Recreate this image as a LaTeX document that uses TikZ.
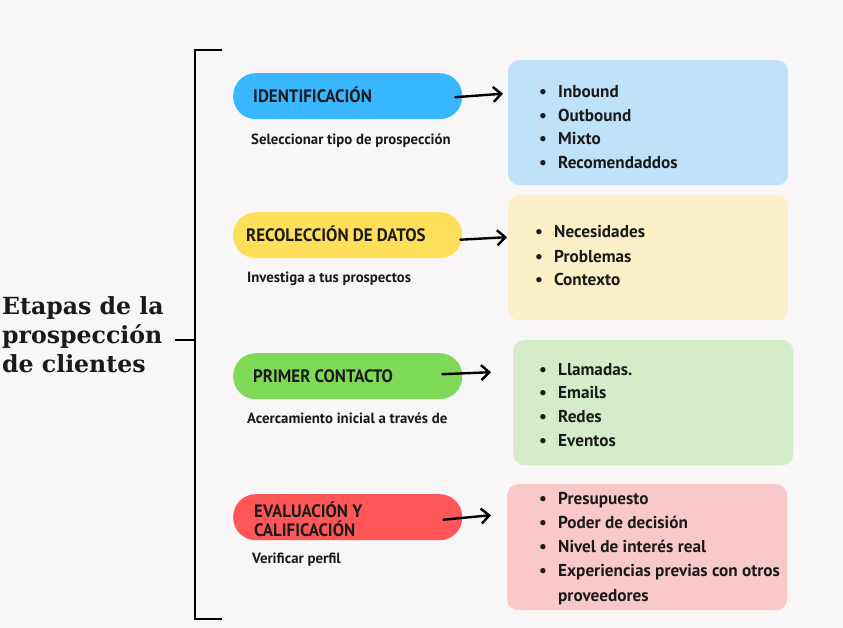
\documentclass[tikz,border=0pt]{standalone}
\usepackage{fontspec}
\setmainfont{PT Sans}
\newfontfamily\pillfont[FakeStretch=0.94]{PT Sans}
\newfontfamily\titlefont{DejaVu Serif}
\usetikzlibrary{arrows.meta}
\definecolor{bg}{HTML}{F8F6F7}
\definecolor{ink}{HTML}{1A1A1A}
\definecolor{pblue}{HTML}{38B6FF}
\definecolor{pyellow}{HTML}{FFDE59}
\definecolor{pgreen}{HTML}{7ED957}
\definecolor{pred}{HTML}{FF5757}
\definecolor{lblue}{HTML}{C0E2F9}
\definecolor{lyellow}{HTML}{FCF0C8}
\definecolor{lgreen}{HTML}{D4EDC8}
\definecolor{lred}{HTML}{F9C8C8}
\tikzset{
  pill/.style={draw=none, rounded corners=22.5pt, minimum width=229pt, minimum height=46pt, inner sep=0pt, anchor=north west},
  listbox/.style={draw=none, rounded corners=11pt, minimum width=280pt, minimum height=125pt, inner sep=0pt, anchor=north west},
  pilltext/.style={anchor=base west, inner sep=0pt, text=ink, font=\pillfont\bfseries\fontsize{18}{20}\selectfont},
  subtext/.style={anchor=base west, inner sep=0pt, text=ink, font=\bfseries\fontsize{14.8}{17}\selectfont},
  item/.style={anchor=base west, inner sep=0pt, text=ink, font=\bfseries\fontsize{17.2}{20}\selectfont},
  bul/.style={anchor=base, inner sep=0pt, text=ink, font=\bfseries\fontsize{17.2}{20}\selectfont},
  arr/.style={line width=2.4pt, line cap=round, line join=round, draw=black, -{Straight Barb[length=8pt,width=15pt,line width=2.4pt]}},
  brk/.style={line width=1.8pt, draw=black}
}
\begin{document}
\begin{tikzpicture}[x=1pt,y=-1pt]
\fill[bg] (0,0) rectangle (843,628);
\useasboundingbox (0,0) rectangle (843,628);

% bracket
\coordinate (brtop) at (222,50);
\coordinate (brtl) at (195,50);
\coordinate (brbl) at (195,619);
\coordinate (brbot) at (222,619);
\coordinate (brmid) at (195,340);
\coordinate (tick) at (175,340);
\draw[brk] (brtop) -- (brtl) -- (brbl) -- (brbot);
\draw[brk] (tick) -- (brmid);

% title
\node[anchor=west, inner sep=0pt, align=left, text=ink, font=\titlefont\bfseries\fontsize{23.6}{29}\selectfont] (title) at (2,335) {Etapas de la\\prospección\\de clientes};

% pills
\node[pill, fill=pblue] (p1) at (233,73) {};
\node[pill, fill=pyellow] (p2) at (233,212) {};
\node[pill, fill=pgreen] (p3) at (233,353) {};
\node[pill, fill=pred] (p4) at (233,494) {};

\node[pilltext] (t1) at (253,103) {IDENTIFICACIÓN};
\node[pilltext] (t2) at (246,242) {RECOLECCIÓN DE DATOS};
\node[pilltext] (t3) at (253,382) {PRIMER CONTACTO};
\node[pilltext] (t4a) at (254,517) {EVALUACIÓN Y};
\node[pilltext] (t4b) at (254,536) {CALIFICACIÓN};

\node[subtext] (s1) at (251,145) {Seleccionar tipo de prospección};
\node[subtext] (s2) at (247,283) {Investiga a tus prospectos};
\node[subtext] (s3) at (247,423) {Acercamiento inicial a través de};
\node[subtext] (s4) at (252,563) {Verificar perfil};

% boxes
\node[listbox, fill=lblue] (b1) at (508,60) {};
\node[listbox, fill=lyellow] (b2) at (508,195) {};
\node[listbox, fill=lgreen] (b3) at (513,340) {};
\node[listbox, fill=lred, minimum height=126pt] (b4) at (507,484) {};

% list 1
\foreach \txt [count=\i] in {Inbound,Outbound,Mixto,Recomendaddos}{
  \node[bul] (b1d\i) at (543,{98+23.4*(\i-1)}) {•};
  \node[item] (b1i\i) at (558,{98+23.4*(\i-1)}) {\txt};
}
% list 2
\foreach \txt [count=\i] in {Necesidades,Problemas,Contexto}{
  \node[bul] (b2d\i) at (539,{238+24*(\i-1)}) {•};
  \node[item] (b2i\i) at (554,{238+24*(\i-1)}) {\txt};
}
% list 3
\foreach \txt [count=\i] in {Llamadas.,Emails,Redes,Eventos}{
  \node[bul] (b3d\i) at (543,{375+23.7*(\i-1)}) {•};
  \node[item] (b3i\i) at (558,{375+23.7*(\i-1)}) {\txt};
}
% list 4
\foreach \txt [count=\i] in {Presupuesto,Poder de decisión,Nivel de interés real,Experiencias previas con otros}{
  \node[bul] (b4d\i) at (543,{504+24.2*(\i-1)}) {•};
  \node[item] (b4i\i) at (558,{504+24.2*(\i-1)}) {\txt};
}
\node[item] (b4i5) at (558,601) {proveedores};

% arrows
\draw[arr] ([xshift=-7pt,yshift=-1pt]p1.east) -- ([xshift=-5pt,yshift=29pt]b1.west);
\draw[arr] ([xshift=-2pt,yshift=-4.5pt]p2.east) -- ([xshift=-1pt,yshift=20.5pt]b2.west);
\draw[arr] ([xshift=-20pt,yshift=2pt]p3.east) -- ([xshift=-22pt,yshift=30.5pt]b3.west);
\draw[arr] ([xshift=-19pt,yshift=-2.5pt]p4.east) -- ([xshift=-16pt,yshift=32pt]b4.west);
\end{tikzpicture}
\end{document}
